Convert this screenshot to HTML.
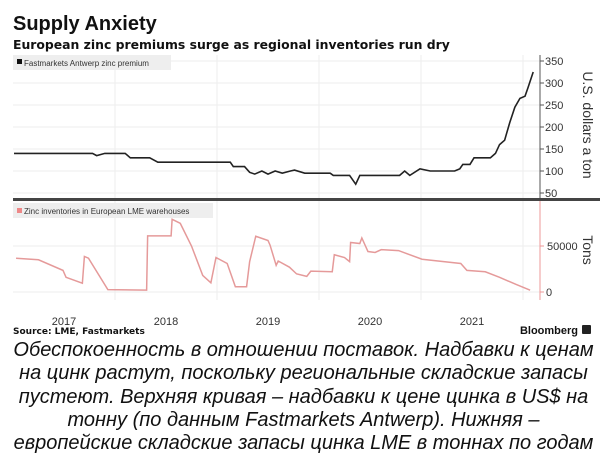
<!DOCTYPE html>
<html><head><meta charset="utf-8">
<style>
body{margin:0;background:#fff;width:607px;height:468px;overflow:hidden;font-family:"Liberation Sans",sans-serif;}
.cap{position:absolute;left:0;width:607px;top:339px;text-align:center;font-style:italic;font-size:20px;line-height:23.3px;color:#111;}
</style></head>
<body>
<svg id="chart" width="607" height="340" style="position:absolute;left:0;top:0" xmlns="http://www.w3.org/2000/svg">
<text x="13" y="30" font-size="20" font-weight="bold" fill="#111" font-family="Liberation Sans, sans-serif">Supply Anxiety</text>
<text x="13" y="49" font-size="12.4" font-weight="bold" fill="#111" font-family="DejaVu Sans, sans-serif">European zinc premiums surge as regional inventories run dry</text>
<g id="grid"></g>
<rect x="13" y="55" width="158" height="15" fill="#eee"/>
<rect x="17" y="59" width="5" height="5" fill="#111"/>
<text x="24" y="66" font-size="8" fill="#333">Fastmarkets Antwerp zinc premium</text>
<rect x="13" y="203" width="200" height="15" fill="#eee"/>
<rect x="17" y="208" width="5" height="5" fill="#e88"/>
<text x="24" y="214" font-size="8" fill="#333">Zinc inventories in European LME warehouses</text>
<g id="marks"></g>
<line x1="540" y1="55" x2="540" y2="199" stroke="#555" stroke-width="1"/>
<line x1="540" y1="201" x2="540" y2="300" stroke="#e99" stroke-width="1"/>
<rect x="13" y="198" width="587" height="3" fill="#444"/>
<text transform="translate(583,125) rotate(90)" text-anchor="middle" font-size="14" fill="#333">U.S. dollars a ton</text>
<text transform="translate(583,250) rotate(90)" text-anchor="middle" font-size="14" fill="#333">Tons</text>
<text x="13" y="334" font-size="9" font-weight="bold" fill="#111" font-family="DejaVu Sans, sans-serif">Source: LME, Fastmarkets</text>
<text x="578" y="334" text-anchor="end" font-size="11" font-weight="bold" fill="#111">Bloomberg</text>
<rect x="582" y="325" width="9" height="9" rx="1" fill="#222"/>
</svg>
<div class="cap">Обеспокоенность в отношении поставок. Надбавки к ценам<br>на цинк растут, поскольку региональные складские запасы<br>пустеют. Верхняя кривая – надбавки к цене цинка в US$ на<br>тонну (по данным Fastmarkets Antwerp). Нижняя –<br>европейские складские запасы цинка LME в тоннах по годам</div>
<script>
const premT=[2016.51,2017.28,2017.32,2017.40,2017.60,2017.65,2017.84,2017.92,2018.63,2018.66,2018.77,2018.82,2018.87,2018.94,2019.0,2019.07,2019.14,2019.22,2019.26,2019.36,2019.61,2019.64,2019.80,2019.83,2019.86,2019.90,2020.29,2020.34,2020.39,2020.49,2020.59,2020.83,2020.88,2020.91,2020.98,2021.02,2021.18,2021.23,2021.27,2021.32,2021.37,2021.42,2021.47,2021.52,2021.55,2021.60];
const premV=[140,140,135,140,140,130,130,120,120,110,110,97,93,100,93,100,95,100,102,95,95,90,90,80,70,90,90,100,90,105,100,100,105,115,115,130,130,140,160,170,210,245,265,270,290,325];
const invT=[2016.53,2016.75,2016.99,2017.02,2017.18,2017.20,2017.24,2017.43,2017.81,2017.82,2018.05,2018.06,2018.14,2018.25,2018.36,2018.44,2018.49,2018.60,2018.68,2018.79,2018.82,2018.88,2019.0,2019.02,2019.08,2019.10,2019.21,2019.28,2019.38,2019.42,2019.63,2019.65,2019.75,2019.80,2019.81,2019.90,2019.92,2019.98,2020.05,2020.11,2020.28,2020.51,2020.89,2020.95,2021.13,2021.27,2021.43,2021.57];
const invV=[36700,35000,23500,16000,9500,38600,36700,2600,2000,61000,61000,79000,74600,50000,18000,10000,37500,31000,5700,5700,33000,60600,56000,51000,29000,33700,27000,19700,17000,22700,22000,40500,37500,33000,53800,52700,58700,44000,43000,46000,45000,35600,31000,23500,22000,16000,8300,2000];
const yearTicks=[2017,2018,2019,2020,2021];
const premTicks=[50,100,150,200,250,300,350];
const invTicks=[0,50000];
const NS="http://www.w3.org/2000/svg";
const x=t=>64+(t-2017)*102;
const yTop=v=>193-(v-50)*132/300;
const yBot=v=>292-v*46/50000;
const grid=document.getElementById('grid'),marks=document.getElementById('marks'),svg=document.getElementById('chart');
function mk(tag,attrs,parent){const e=document.createElementNS(NS,tag);for(const k in attrs)e.setAttribute(k,attrs[k]);parent.appendChild(e);return e;}
premTicks.forEach(v=>{
  const l=mk('line',{x1:13,x2:540,y1:yTop(v),y2:yTop(v),stroke:'#eee','stroke-width':1},grid);
  
  
  mk('line',{x1:540,x2:544,y1:yTop(v),y2:yTop(v),stroke:'#555'},svg);
  const t=mk('text',{x:545,y:yTop(v)+4,'font-size':11,fill:'#333'},svg);t.textContent=v;
  
  
});
invTicks.forEach(v=>{
  const l=mk('line',{x1:13,x2:540,y1:yBot(v),y2:yBot(v),stroke:'#eee','stroke-width':1},grid);
  
  
  mk('line',{x1:540,x2:544,y1:yBot(v),y2:yBot(v),stroke:'#e99'},svg);
  const t=mk('text',{x:v?547:546,y:yBot(v)+4,'font-size':11,fill:'#333'},svg);t.textContent=v;
  
  
});
yearTicks.forEach(yr=>{
  const gx=x(yr+0.5);
  if(gx<540){const l=mk('line',{x1:gx,x2:gx,y1:55,y2:300,stroke:'#eee'},grid);
  
  }
  const t=mk('text',{x:x(yr),y:325,'text-anchor':'middle','font-size':11,fill:'#333'},svg);t.textContent=yr;
  
  
});
const p1=mk('polyline',{points:premT.map((t,i)=>x(t)+','+yTop(premV[i])).join(' '),fill:'none',stroke:'#222','stroke-width':1.6},marks);


const p2=mk('polyline',{points:invT.map((t,i)=>x(t)+','+yBot(invV[i])).join(' '),fill:'none',stroke:'#e59a9a','stroke-width':1.5},marks);


</script>
</body></html>
